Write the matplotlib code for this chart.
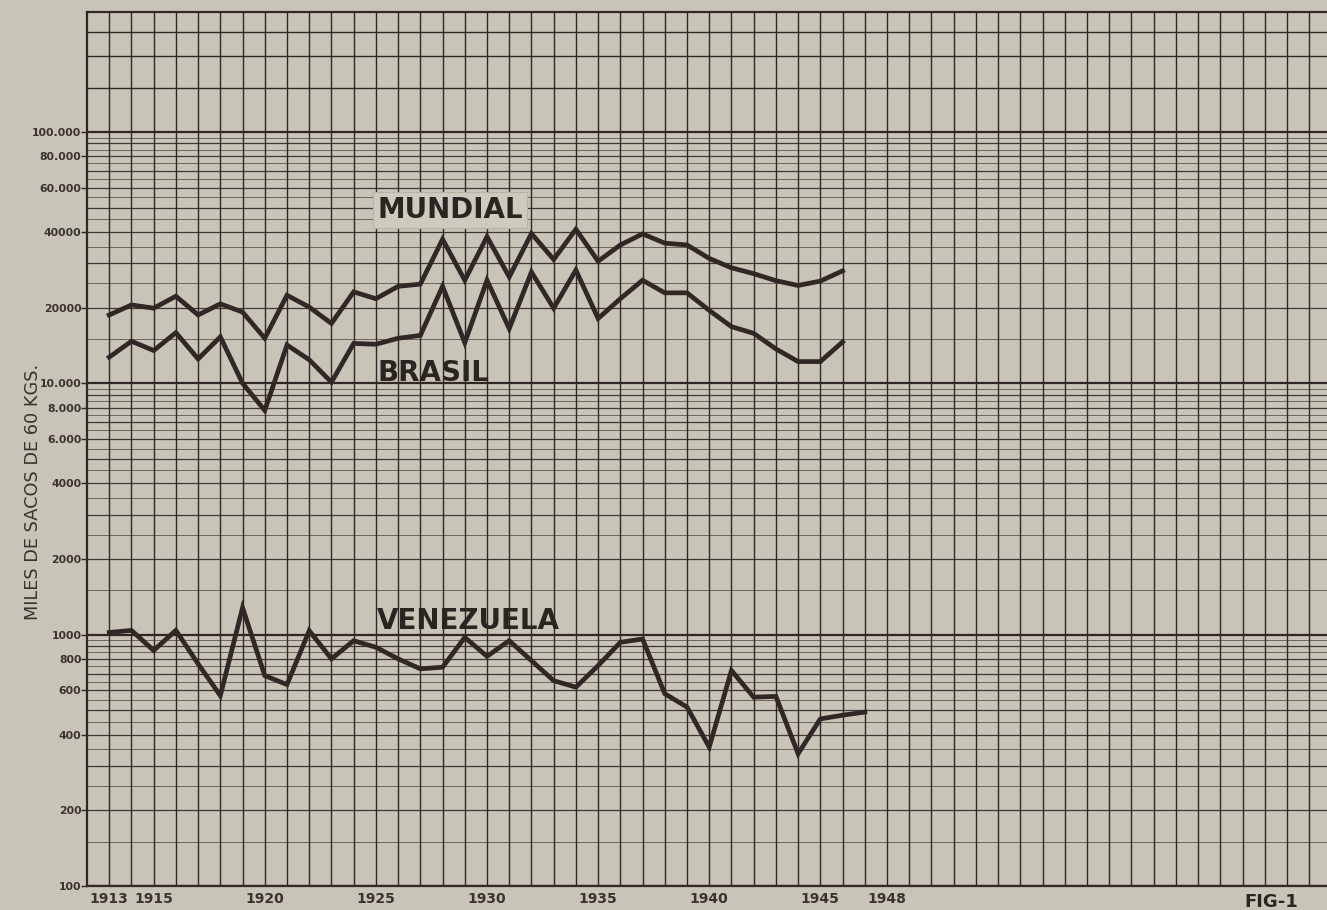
import numpy as np
import matplotlib
matplotlib.use("Agg")
import matplotlib.pyplot as plt

# annual coffee production, thousands of 60 kg bags
years_world = list(range(1913, 1947))
mundial = [18700, 20500, 19900, 22200, 18700, 20700, 19200, 15100, 22400, 20100,
           17300, 23100, 21700, 24300, 24800, 37400, 25700, 38300, 26500, 39400,
           31100, 41000, 30600, 35500, 39300, 36100, 35500, 31400, 28800, 27300,
           25600, 24500, 25500, 28000]
brasil = [12700, 14700, 13500, 15900, 12500, 15300, 10000, 7800, 14200, 12400,
          10100, 14400, 14300, 15100, 15500, 24300, 14500, 25700, 16500, 27700,
          19900, 28200, 18100, 21700, 25700, 22900, 22900, 19500, 16800, 15800,
          13700, 12200, 12200, 14600]

years_ven = list(range(1913, 1948))
venezuela = [1020, 1040, 865, 1040, 765, 572, 1280, 687, 633, 1037,
             801, 946, 891, 801, 731, 742, 975, 820, 946, 788,
             656, 618, 753, 932, 961, 582, 515, 357, 720, 564,
             568, 336, 462, 478, 492]

ytick_vals = [100, 200, 400, 600, 800, 1000, 2000, 4000, 6000, 8000,
              10000, 20000, 40000, 60000, 80000, 100000]
ytick_text = ["100", "200", "400", "600", "800", "1000", "2000", "4000", "6.000", "8.000",
              "10.000", "20000", "40000", "60.000", "80.000", "100.000"]
xtick_years = [1913, 1915, 1920, 1925, 1930, 1935, 1940, 1945, 1948]

paper = "#c9c4b8"
ink = "#2f2825"

fig = plt.figure(figsize=(13.27, 9.10), dpi=100, facecolor=paper)
ax = fig.add_axes([87 / 1327, 1 - 886 / 910, 1240 / 1327, 874 / 910])
ax.set_facecolor(paper)
ax.set_yscale("log")
ax.set_xlim(1912, 1967.8)
ax.set_ylim(100, 300000)

# semi-log paper: one ruling per year, half-unit rulings inside each decade
for yr in range(1913, 1968):
    ax.axvline(yr, color=ink, lw=1.0, zorder=1)
for base in [100, 1000, 10000]:
    for m in np.arange(1.5, 10.0, 0.5):
        heavy = float(m).is_integer()
        ax.axhline(base * m, color=ink, lw=0.9 if heavy else 0.6,
                   alpha=0.9 if heavy else 0.7, zorder=1)
    ax.axhline(base, color=ink, lw=1.6, zorder=1)
for m in [1.0, 1.5, 2.0, 2.5]:
    ax.axhline(100000 * m, color=ink, lw=1.6 if m == 1.0 else 1.0, zorder=1)

line_kw = dict(color=ink, lw=3.4, solid_joinstyle="miter", zorder=3)
ax.plot(years_world, mundial, **line_kw)
ax.plot(years_world, brasil, **line_kw)
ax.plot(years_ven, venezuela, **line_kw)

label_kw = dict(fontsize=20, fontweight="bold", color="#2b2522", va="center", ha="left", zorder=4)
ax.text(1925.05, 48900, "MUNDIAL",
        bbox=dict(boxstyle="square,pad=0.15", fc="#cfcabe", ec="#b9b2a6", lw=0.8), **label_kw)
ax.text(1925.05, 10960, "BRASIL", **label_kw)
ax.text(1925.05, 1137, "VENEZUELA", **label_kw)

ax.yaxis.set_minor_locator(matplotlib.ticker.NullLocator())
ax.set_yticks(ytick_vals)
ax.set_yticklabels(ytick_text, fontsize=7.8, fontweight="bold", color="#3a332e")
ax.tick_params(axis="y", length=4, width=1.0, color=ink, pad=0)

ax.set_xticks(xtick_years)
ax.set_xticklabels([str(y) for y in xtick_years], fontsize=10, fontweight="bold", color="#3a332e")
ax.tick_params(axis="x", length=0, pad=4)

for side in ["left", "bottom", "top"]:
    ax.spines[side].set_color(ink)
    ax.spines[side].set_linewidth(1.6)
ax.spines["right"].set_visible(False)

fig.text(33 / 1327, 1 - 492 / 910, "MILES DE SACOS DE 60 KGS.", rotation=90,
         ha="center", va="center", fontsize=12.8, color="#3a332e")
fig.text(1244 / 1327, 1 - 893 / 910, "FIG-1", ha="left", va="top",
         fontsize=13, fontweight="bold", color="#2b2522")

fig.savefig("out.png", dpi=100, facecolor=paper)
